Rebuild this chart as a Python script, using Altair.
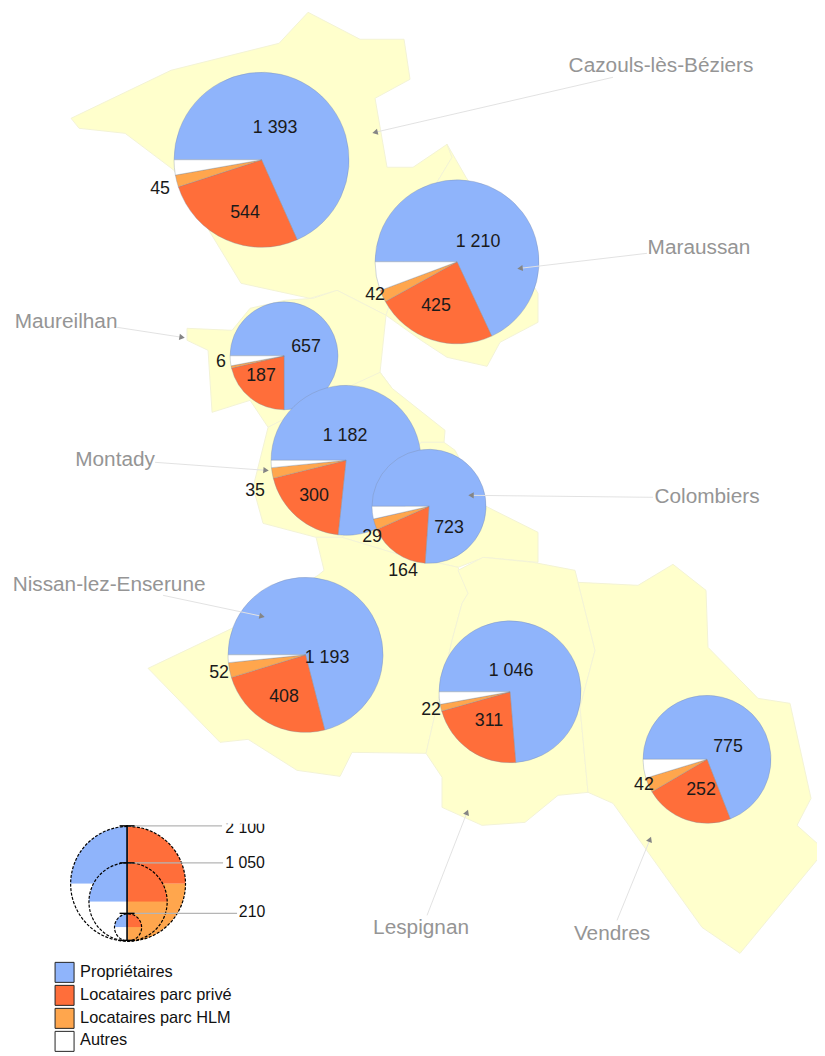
import math
import altair as alt
import pandas as pd

W, H = 817, 1048
FONT = "Liberation Sans"

# commune outlines (map units = reference pixels)
outline_names = ["Cazouls", "Maraussan", "Maureilhan", "Montady", "Colombiers", "Nissan", "Lespignan", "Vendres"]
outline_cazouls = [(308,12),(360,39),(404,39),(410,79),(375,98),(387,167),(413,167),(447,144),(452,157),(420,210),(386,315),(337,290),(310,298),(241,283),(210,232),(174,170),(125,133),(79,128),(71,118),(171,70),(279,43)]
outline_maraussan = [(447,144),(466,177),(500,230),(538,293),(538,322),(500,342),(487,366),(447,357),(421,340),(386,315),(420,210),(452,157)]
outline_maureilhan = [(187,328),(232,330),(250,308),(285,300),(313,298),(337,290),(386,315),(380,372),(392,388),(330,395),(268,427),(250,400),(212,412),(208,350),(187,340)]
outline_montady = [(380,372),(392,388),(445,430),(444,442),(421,442),(372,510),(342,537),(316,537),(263,523),(253,487),(268,427),(330,395)]
outline_colombiers = [(421,442),(444,442),(455,450),(484,505),(538,532),(538,562),(484,557),(458,567),(395,553),(342,537),(372,510)]
outline_nissan = [(316,537),(342,537),(395,553),(458,567),(468,593),(462,603),(452,640),(426,753),(352,752),(340,776),(297,770),(248,739),(220,742),(148,668),(232,628),(318,575),(324,570)]
outline_lespignan = [(458,570),(483,557),(533,562),(575,570),(595,650),(580,707),(588,792),(558,795),(525,822),(482,825),(442,807),(442,777),(426,753),(452,640),(462,603),(468,593)]
outline_vendres = [(578,582),(638,585),(673,564),(706,590),(708,647),(758,698),(790,703),(811,798),(797,825),(825,850),(740,953),(702,927),(613,803),(588,792),(580,707),(595,650)]
outlines = [outline_cazouls, outline_maraussan, outline_maureilhan, outline_montady, outline_colombiers, outline_nissan, outline_lespignan, outline_vendres]

# pies
categories = ["Propriétaires", "Locataires parc privé", "Locataires parc HLM", "Autres"]
colors = ["#8FB4FB", "#FF6E3A", "#FFA64D", "#FFFFFF"]
proprietaires = [1393, 1210, 657, 1182, 723, 1193, 1046, 775]
prive = [544, 425, 187, 300, 164, 408, 311, 252]
hlm = [45, 42, 6, 35, 29, 52, 22, 42]
autres = [57, 101, 26, 24, 34, 27, 40, 53]
pie_x = [261.5, 457, 284, 346, 429, 305.5, 510, 707]
pie_y = [159.5, 261.5, 355.5, 460, 506, 654.5, 691.5, 759]
pie_r = [88.4, 82.8, 54.5, 75.7, 57.6, 78.3, 71.7, 64.6]
order = [0, 1, 2, 3, 4, 5, 6, 7]

# value labels: (text, x, y)
value_labels = [("1 393",275,128),("544",245,213),("45",160,189),
                ("1 210",478,242),("425",436,306),("42",375,295),
                ("657",306,347),("187",261,376),("6",221,362),
                ("1 182",345,436),("300",314,496),("35",255,491),
                ("723",449,528),("164",403,571),("29",372,537),
                ("1 193",327,658),("408",284,697),("52",219,673),
                ("1 046",511,671),("311",489,721),("22",431,710),
                ("775",728,747),("252",701,790),("42",644,785)]

# commune names with leader lines
names = ["Cazouls-lès-Béziers", "Maraussan", "Maureilhan", "Montady", "Colombiers", "Nissan-lez-Enserune", "Lespignan", "Vendres"]
name_x = [661, 699, 66, 115, 707, 109, 421, 612]
name_y = [66, 248, 322, 460, 497, 585, 928, 934]
lead_x = [613, 647, 117, 155, 653, 163, 427, 617]
lead_y = [77, 253, 327, 462, 497, 595, 915, 920]
tip_x = [375, 520, 182, 266, 471, 262, 467, 650]
tip_y = [132, 268, 337, 470, 495, 616, 812, 839]

# size legend
size_labels = ["2 100", "1 050", "210"]
size_cx = [128, 128, 128]
size_cy = [883.5, 901.5, 927]
size_r = [58, 39.5, 13.7]
size_tick_y = [825.5, 862.5, 913]
size_line_end = [222, 223, 237]
size_text_x = [245, 245, 252]
size_text_y = [827.5, 863, 912]
axis_x, axis_y0, axis_y1 = 127, 825, 940
tick_half = 7.5
mask = [(214, 275, 808, 823.5)]

# colour legend
swatch_x, swatch_x2 = 55, 74
swatch_y = [962, 985, 1008, 1031]
swatch_h = 20
swatch_text_x = 80
swatch_text_y = [972, 995, 1018, 1040]

X = alt.Scale(domain=[7.92, 817.0], range=[0, W])
Y = alt.Scale(domain=[12.84, 1050.5], range=[0, H])
x = lambda f: alt.X(f, type="quantitative", scale=X, axis=None)
y = lambda f: alt.Y(f, type="quantitative", scale=Y, axis=None)

poly = pd.DataFrame([
    {"c": n, "i": i, "x": p[0], "y": p[1]}
    for n, o in zip(outline_names, outlines) for i, p in enumerate(o)
])
map_layer = alt.Chart(poly).mark_line(
    interpolate="linear-closed", fill="#FFFFCC", stroke="#F3F3D6", strokeWidth=1, clip=False
).encode(x=x("x"), y=y("y"), detail="c:N", order=alt.Order("i:Q"))

rows = []
for k in order:
    vals = [proprietaires[k], prive[k], hlm[k], autres[k]]
    tot = sum(vals)
    a = 1.5 * math.pi
    for cat, v in zip(categories, vals):
        b = a + v / tot * 2 * math.pi
        rows.append({"k": k, "cat": cat, "a": a, "b": b, "x": pie_x[k], "y": pie_y[k], "r": pie_r[k]})
        a = b
pies = pd.DataFrame(rows)
color = alt.Color("cat:N", scale=alt.Scale(domain=categories, range=colors), legend=None)
pie_layer = alt.Chart(pies).mark_arc(stroke="#7C8AA5", strokeWidth=0.5, strokeOpacity=0.7).encode(
    x=x("x"), y=y("y"),
    theta=alt.Theta("a:Q", scale=None), theta2=alt.Theta2("b:Q"),
    radius=alt.Radius("r:Q", scale=None), color=color,
)

leads = pd.DataFrame({"x": lead_x, "y": lead_y, "x2": tip_x, "y2": tip_y})
lead_layer = alt.Chart(leads).mark_rule(color="#E2E2E2", strokeWidth=1).encode(
    x=x("x"), y=y("y"), x2="x2:Q", y2="y2:Q")
leads["angle"] = [math.degrees(math.atan2(b - d, a - c)) - 90 for a, b, c, d in zip(tip_x, tip_y, lead_x, lead_y)]
leads["angle"] = (leads["angle"] + 180 + 360) % 360
tip_layer = alt.Chart(leads).mark_point(shape="triangle-up", filled=True, color="#858585", opacity=1, size=40).encode(
    x=x("x2"), y=y("y2"), angle=alt.Angle("angle:Q", scale=None))

names_df = pd.DataFrame({"t": names, "x": name_x, "y": name_y})
name_layer = alt.Chart(names_df).mark_text(font=FONT, fontSize=21, color="#959595", align="center", baseline="middle").encode(
    x=x("x"), y=y("y"), text="t:N")

vl = pd.DataFrame(value_labels, columns=["t", "x", "y"])
value_layer = alt.Chart(vl).mark_text(font=FONT, fontSize=18, color="#1A1A1A", align="center", baseline="middle").encode(
    x=x("x"), y=y("y"), text="t:N")

# size legend
rows = []
for cx, cy, r in zip(size_cx, size_cy, size_r):
    for n, cat in enumerate(categories):
        rows.append({"cat": cat, "x": cx, "y": cy, "r": r, "a": [1.5, 0, 0.5, 1][n] * math.pi, "b": [2, 0.5, 1, 1.5][n] * math.pi})
lp = pd.DataFrame(rows)
lp_fill = alt.Chart(lp).mark_arc().encode(
    x=x("x"), y=y("y"),
    theta=alt.Theta("a:Q", scale=None), theta2=alt.Theta2("b:Q"),
    radius=alt.Radius("r:Q", scale=None), color=color,
)
circles = pd.DataFrame({"x": size_cx, "y": size_cy, "r": size_r, "a": [0.0] * 3, "b": [2 * math.pi] * 3})
lp_line = alt.Chart(circles).mark_arc(fillOpacity=0, stroke="#000000", strokeWidth=1.2, strokeDash=[3, 1.5]).encode(
    x=x("x"), y=y("y"),
    theta=alt.Theta("a:Q", scale=None), theta2=alt.Theta2("b:Q"),
    radius=alt.Radius("r:Q", scale=None),
)
sz_lines = pd.DataFrame({"x": [axis_x] * 3, "x2": size_line_end, "y": size_tick_y})
sz_grey = alt.Chart(sz_lines).mark_rule(color="#B5B5B5", strokeWidth=1.2).encode(x=x("x"), x2="x2:Q", y=y("y"))
ax = pd.DataFrame({"x": [axis_x], "y": [axis_y0], "y2": [axis_y1]})
sz_axis = alt.Chart(ax).mark_rule(color="#000000", strokeWidth=1.6).encode(x=x("x"), y=y("y"), y2="y2:Q")
ticks = pd.DataFrame({"y": size_tick_y + [axis_y1], "x": axis_x - tick_half, "x2": axis_x + tick_half})
sz_ticks = alt.Chart(ticks).mark_rule(color="#000000", strokeWidth=1.4).encode(x=x("x"), x2="x2:Q", y=y("y"))
sz_txt = alt.Chart(pd.DataFrame({"t": size_labels, "x": size_text_x, "y": size_text_y})).mark_text(
    font=FONT, fontSize=16, color="#111111", align="center", baseline="middle").encode(x=x("x"), y=y("y"), text="t:N")
m = pd.DataFrame(mask, columns=["x", "x2", "y", "y2"])
mask_layer = alt.Chart(m).mark_rect(color="#FFFFFF").encode(x=x("x"), x2="x2:Q", y=y("y"), y2="y2:Q")

# colour legend
sw = pd.DataFrame({"cat": categories, "x": swatch_x, "x2": swatch_x2, "y": swatch_y,
                   "y2": [v + swatch_h for v in swatch_y]})
sw_layer = alt.Chart(sw).mark_rect(stroke="#222222", strokeWidth=1).encode(
    x=x("x"), x2="x2:Q", y=y("y"), y2="y2:Q", color=color)
sw_txt = alt.Chart(pd.DataFrame({"t": categories, "x": swatch_text_x, "y": swatch_text_y})).mark_text(
    font=FONT, fontSize=16.5, color="#111111", align="left", baseline="middle").encode(x=x("x"), y=y("y"), text="t:N")

chart = alt.layer(
    map_layer, pie_layer, lead_layer, tip_layer, name_layer, value_layer,
    lp_fill, lp_line, sz_grey, sz_axis, sz_ticks, sz_txt, mask_layer, sw_layer, sw_txt,
).properties(
    width=W, height=H, padding=0, autosize=alt.AutoSizeParams(type="none"), background="#FFFFFF"
).configure_view(stroke=None)

chart.save("out.html", embed_options={"renderer": "svg", "actions": False})
